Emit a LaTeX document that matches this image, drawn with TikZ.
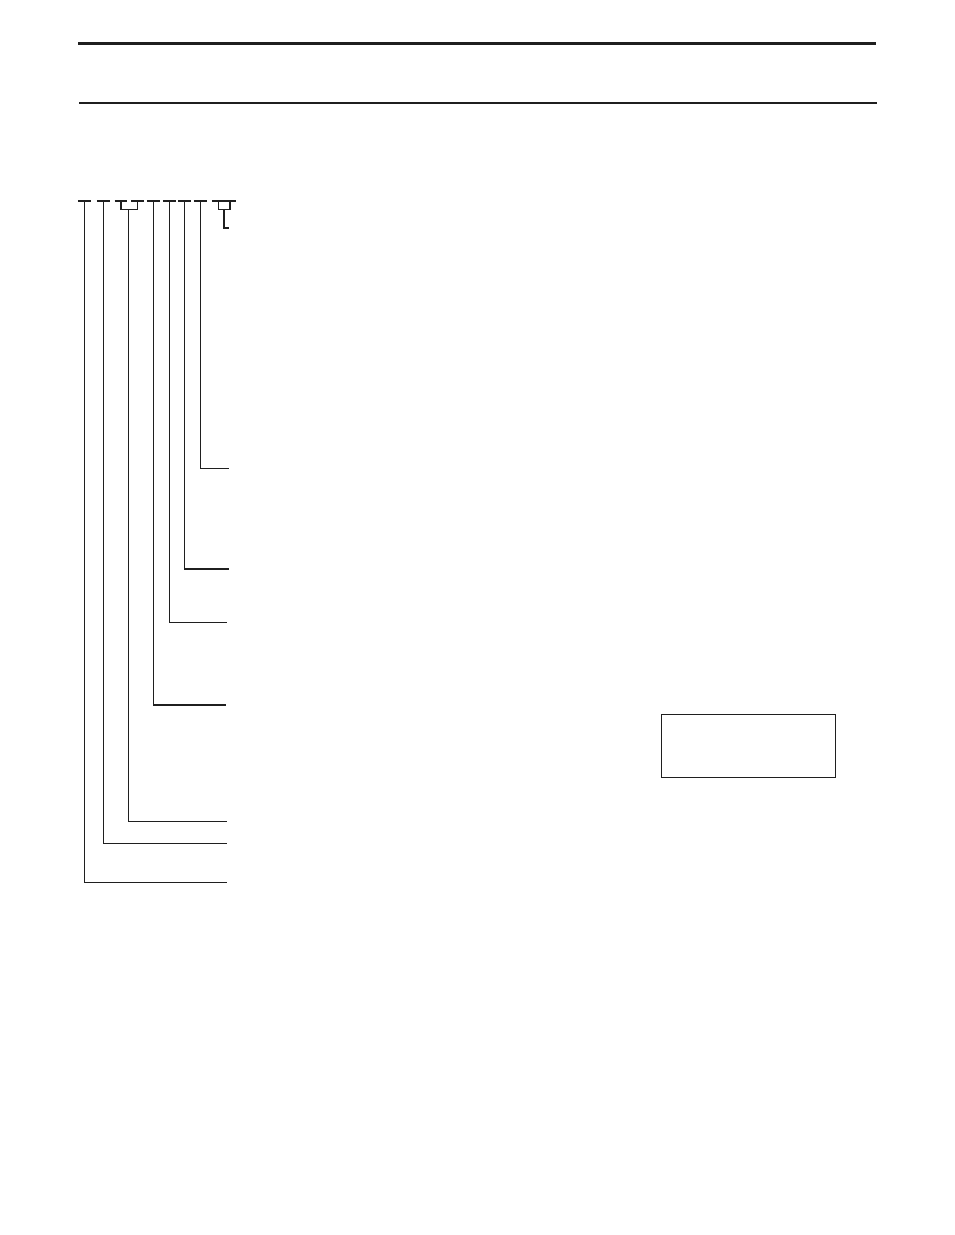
\documentclass[tikz,border=0pt]{standalone}
\usetikzlibrary{calc}

\begin{document}
\begin{tikzpicture}[x=0.75pt,y=-0.75pt,
    lead/.style={draw=black!88,line width=1.1pt},
    rule/.style={draw=black!88,line width=#1},
    rule/.default=2pt]
  %\draw (0, 0) grid (954, 1235);
  \fill[white] (0,0) rectangle (954,1235);
  \useasboundingbox (0,0) rectangle (954,1235);

  % header rules
  \draw[rule=2.2pt] (78,43.3) -- (876,43.3);
  \draw[rule=1.8pt] (79,102.8) -- (877,102.8);

  % tops of the code fields
  \foreach \t [count=\i] in {84.3,103.3,121,137.7,153.3,169.3,184.3,200.3,218.3,230}
    \coordinate (t\i) at (\t,201);
  \foreach \i in {1,...,10}
    \draw[lead] ($(t\i)+(-6.4,0)$) -- ($(t\i)+(6.4,0)$);

  % ends of the leaders
  \coordinate (e1) at (227,882.3);
  \coordinate (e2) at (227,843.3);
  \coordinate (e3) at (227,821.3);
  \coordinate (e5) at (226,705);
  \coordinate (e6) at (226.7,622.3);
  \coordinate (e7) at (229,569);
  \coordinate (e8) at (229,468.3);
  \coordinate (e9) at (229,228);

  \draw[lead] (t1) |- (e1);
  \draw[lead] (t2) |- (e2);
  \draw[lead] (t3) -- ++(0,8.5) -| (t4);
  \coordinate (m3) at (128.3,209.5);
  \draw[lead] (m3) |- (e3);
  \draw[lead] (t5) |- (e5);
  \draw[lead] (t6) |- (e6);
  \draw[lead] (t7) |- (e7);
  \draw[lead] (t8) |- (e8);
  \draw[lead] (t9) -- ++(0,8.5) -| (t10);
  \coordinate (m9) at (224.2,209.5);
  \draw[lead] (m9) |- (e9);

  % note box
  \node[lead,minimum width=130.2pt,minimum height=47.5pt,inner sep=0pt]
    (note) at (748.5,746) {};

\end{tikzpicture}
\end{document}
